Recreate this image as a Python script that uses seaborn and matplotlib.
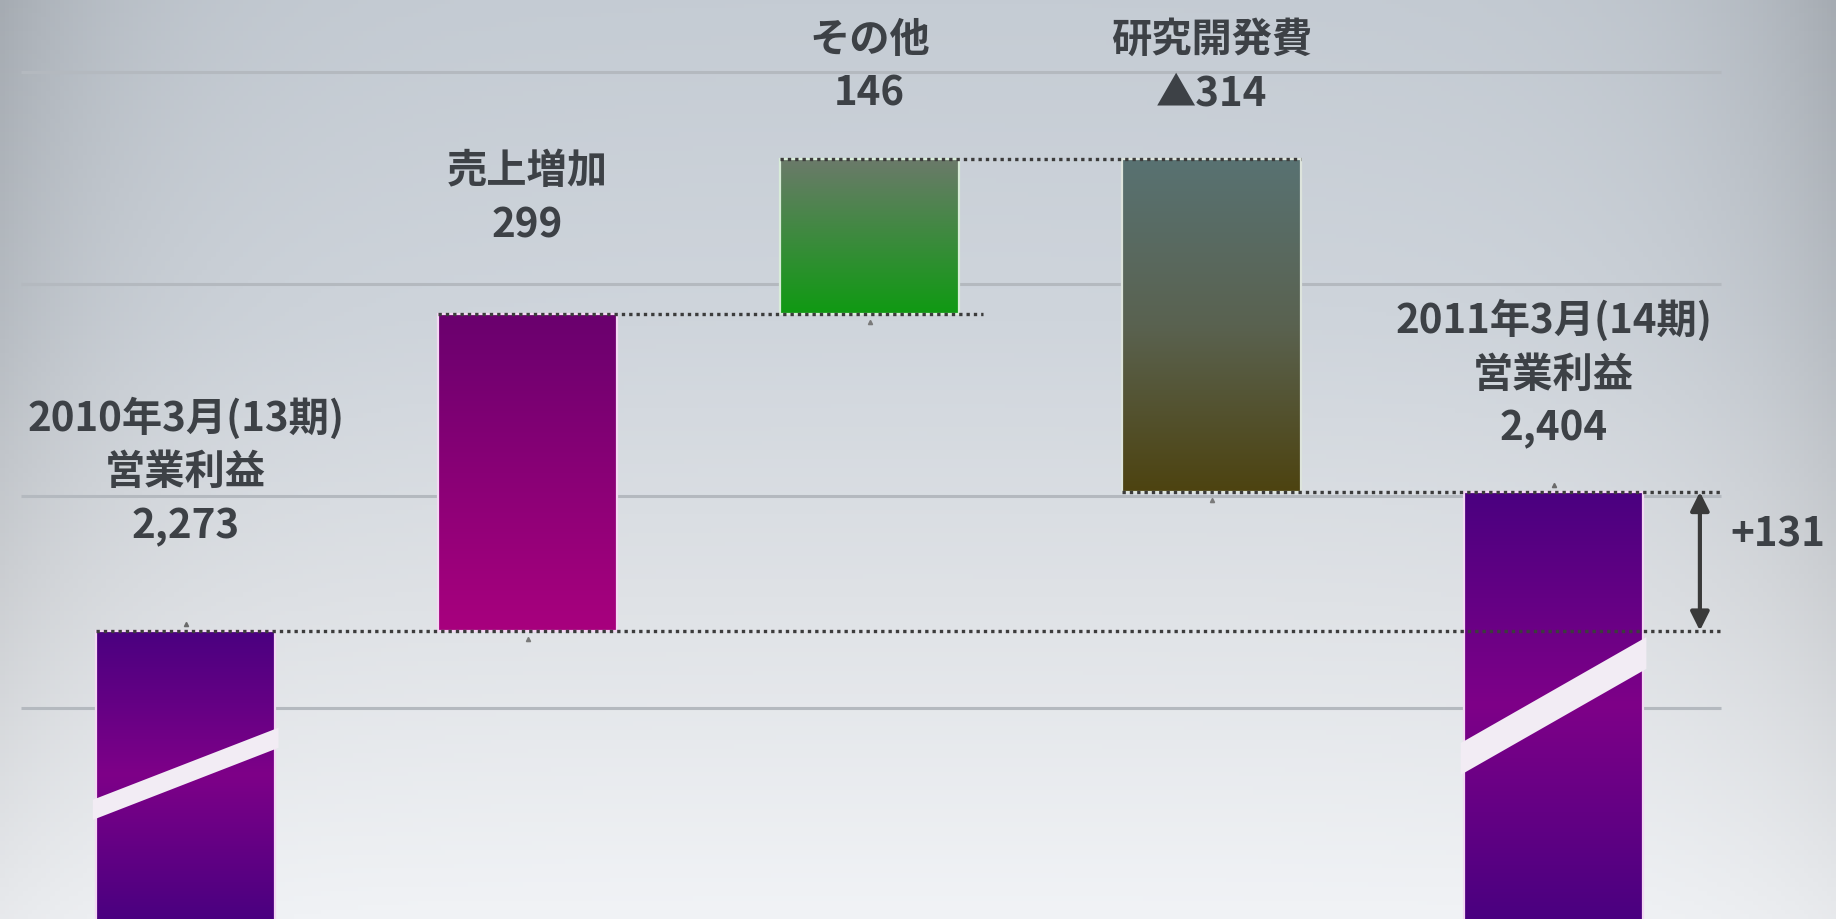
import numpy as np
import pandas as pd
import matplotlib
matplotlib.use('Agg')
import matplotlib.pyplot as plt
import seaborn as sns
from matplotlib.colors import LinearSegmentedColormap
from matplotlib.patches import Polygon

### Data
name_labels = ['2010年3月(13期)\n営業利益', '売上増加', 'その他', '研究開発費', '2011年3月(14期)\n営業利益']
value_labels = ['2,273', '299', '146', '▲314', '2,404']
start_profit = 2273
changes = [299, 146, -314]
end_profit = 2404
diff_label = '+131'
grid_levels = [2200, 2400, 2600, 2800]

### Styles
bar_stops = [
    [(0.0, '#4a0080'), (0.5, '#7e0088'), (1.0, '#4a0080')],
    [(0.0, '#a8007e'), (1.0, '#6a006e')],
    [(0.0, '#0f9a12'), (1.0, '#6b7a6a')],
    [(0.0, '#4d4310'), (0.5, '#5a6250'), (1.0, '#587272')],
    [(0.0, '#4a0080'), (0.5, '#7e0088'), (1.0, '#4a0080')],
]
bar_edges = ['#f3d8f3', '#f3d8f3', '#d8ecd8', '#dde4dc', '#f3d8f3']
text_color = '#3d4146'
y_min, y_max = 2001, 2869
x_min, x_max = -0.543, 4.826
bar_width = 0.523
line_end = 4.497
arrow_x = 4.428
line_step = 51
value_text_y = [2372, 2656, 2780, 2780, 2464]
# break band: (bar index, centre at left edge, centre at right edge, thickness)
breaks = [(0, 2104, 2172, 19), (4, 2152, 2252, 30)]

### Waterfall geometry
levels = np.cumsum([start_profit] + changes)
tops = [start_profit] + [max(a, b) for a, b in zip(levels[:-1], levels[1:])] + [end_profit]
bottoms = [0] + [min(a, b) for a, b in zip(levels[:-1], levels[1:])] + [0]
df = pd.DataFrame({'name': name_labels, 'top': tops, 'bottom': bottoms})

sns.set_theme(style='white')
plt.rcParams['font.family'] = ['Noto Sans CJK JP', 'DejaVu Sans']

fig = plt.figure(figsize=(18.36, 9.2), dpi=100)

# background gradient
bg_ax = fig.add_axes([0, 0, 1, 1], zorder=0)
H, W = 200, 400
t = np.linspace(0, 1, H)[:, None]
u = np.linspace(0, 1, W)[None, :]
bg_cmap = LinearSegmentedColormap.from_list('bg', [(0, '#c5ccd4'), (0.35, '#cfd5dc'), (0.65, '#dfe2e6'), (1, '#f1f3f6')])
base = bg_cmap(np.repeat(t, W, axis=1))[..., :3]
edge = np.minimum(u, 1 - u)
vign = np.exp(-edge / 0.07) * (1 - 0.75 * t)
base = base * (1 - 0.16 * vign)[..., None]
bg_ax.imshow(base, extent=[0, 1, 0, 1], aspect='auto', origin='upper')
bg_ax.set_axis_off()

ax = fig.add_axes([0, 0, 1, 1], zorder=1)
ax.patch.set_alpha(0)

sns.barplot(data=df, x='name', y='top', order=name_labels, width=bar_width,
            color='#800080', errorbar=None, ax=ax, zorder=3)
bars = list(ax.patches)

ax.set_xlim(x_min, x_max)
ax.set_ylim(y_min, y_max)

# grid lines
ax.hlines(grid_levels, -0.481, 4.489, color='#b4b9bf', lw=2.2, zorder=1)

# gradient fill on each bar
for i, p in enumerate(bars):
    p.set_y(bottoms[i])
    p.set_height(tops[i] - bottoms[i])
    p.set_facecolor('none')
    p.set_edgecolor(bar_edges[i])
    p.set_linewidth(1.6)
    p.set_zorder(3.5)
    x0 = p.get_x()
    x1 = x0 + p.get_width()
    y0 = max(bottoms[i], y_min)
    y1 = tops[i]
    cmap = LinearSegmentedColormap.from_list(f'bar{i}', bar_stops[i])
    grad = cmap(np.linspace(0, 1, 256))[:, None, :3]
    grad = np.repeat(grad, 2, axis=1)
    im = ax.imshow(grad, extent=[x0, x1, y0, y1], origin='lower',
                   aspect='auto', zorder=3, interpolation='bilinear')
    im.set_clip_path(p)

# break marks on the total bars
for i, yl, yr, th in breaks:
    p = bars[i]
    x0 = p.get_x() - 0.01
    x1 = p.get_x() + p.get_width() + 0.01
    band = Polygon([(x0, yl - th / 2), (x1, yr - th / 2), (x1, yr + th / 2), (x0, yl + th / 2)],
                   closed=True, facecolor='#f2ecf4', edgecolor='none', zorder=4)
    ax.add_patch(band)

ax.set_xlim(x_min, x_max)
ax.set_ylim(y_min, y_max)

# dotted connectors
lefts = [p.get_x() for p in bars]
rights = [p.get_x() + p.get_width() for p in bars]
dot_kw = dict(color='#3c3c3c', lw=2.4, linestyle=(0, (1, 1.2)), zorder=5)
ax.hlines(levels[0], lefts[0], line_end, **dot_kw)
ax.hlines(levels[1], lefts[1], rights[2] + 0.07, **dot_kw)
ax.hlines(levels[2], lefts[2], rights[3], **dot_kw)
ax.hlines(levels[3], lefts[3], line_end, **dot_kw)

# tiny marks at bar centres
centres = [p.get_x() + p.get_width() / 2 for p in bars]
ax.plot(centres[0], tops[0] + 6, marker='^', ms=3, color='#6a6a6a', zorder=5)
ax.plot(centres[4], tops[4] + 6, marker='^', ms=3, color='#6a6a6a', zorder=5)
for i in (1, 2, 3):
    ax.plot(centres[i], bottoms[i] - 8, marker='^', ms=3, color='#7a7a7a', zorder=5)

# difference arrow
ax.annotate('', xy=(arrow_x, end_profit), xytext=(arrow_x, start_profit),
            arrowprops=dict(arrowstyle='<|-|>', color='#3a3a3a', lw=3,
                            mutation_scale=28, shrinkA=0, shrinkB=0), zorder=6)
ax.text(4.655, 2364, diff_label, ha='center', va='center', fontsize=29,
        fontweight='bold', color=text_color)

# labels
for i in range(len(name_labels)):
    lines = name_labels[i].split('\n') + [value_labels[i]]
    for k, line in enumerate(reversed(lines)):
        ax.text(centres[i], value_text_y[i] + k * line_step, line, ha='center', va='center',
                fontsize=29, fontweight='bold', color=text_color)

ax.set_axis_off()
fig.savefig('out.png', dpi=100)
